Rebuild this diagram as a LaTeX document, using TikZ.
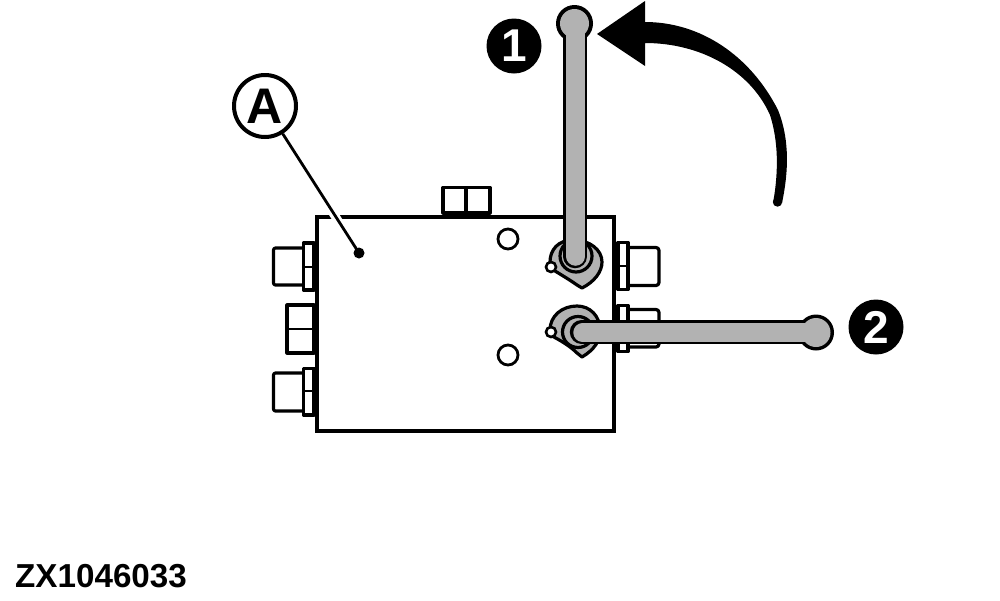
\documentclass[tikz,border=0pt]{standalone}
\usepackage{fontspec}
\setmainfont{Liberation Sans}
\definecolor{levergray}{RGB}{178,178,178}
\tikzset{
  part/.style={draw=black,line width=3.2pt,fill=white,line join=round},
  hairline/.style={draw=black,line width=2.6pt},
  grayp/.style={draw=black,line width=3.2pt,fill=levergray,line join=round},
  barout/.style={draw=black,line width=23.5pt,line cap=round},
  barin/.style={draw=levergray,line width=18.5pt,line cap=round},
  bullet/.style={circle,fill=black,minimum size=55pt,inner sep=0pt,text=white,font=\bfseries\fontsize{46}{46}\selectfont},
  letter/.style={circle,draw=black,line width=4pt,fill=white,minimum size=62pt,inner sep=0pt,font=\bfseries\fontsize{50}{50}\selectfont},
  hole/.style={circle,draw=black,line width=2.8pt,fill=white,minimum size=20pt,inner sep=0pt},
  pin/.style={circle,draw=black,line width=2.6pt,fill=white,minimum size=10pt,inner sep=0pt}
}
\begin{document}
\begin{tikzpicture}[x=1pt,y=-1pt]
\useasboundingbox (0,0) rectangle (1000,600);
% top plug
\draw[part] (443,213) rectangle (466,187.5);
\draw[part] (466,213) rectangle (490,187.5);
% left fittings
\draw[part,rounded corners=2pt] (303,248) -- (273.5,248) -- (273.5,285) -- (303,285);
\draw[part] (303.5,243) rectangle (314,290);
\draw[hairline] (302,267) -- (314,267);
\draw[part] (287,305) rectangle (314,353);
\draw[hairline] (286,329) -- (314,329);
\draw[part,rounded corners=2pt] (303,373) -- (273.5,373) -- (273.5,411) -- (303,411);
\draw[part] (303.5,368.5) rectangle (314,415);
\draw[hairline] (302,391) -- (314,391);
% right fittings
\draw[part,rounded corners=3pt] (628,247.5) -- (659,247.5) -- (659,285.5) -- (628,285.5);
\draw[part] (618,242.5) rectangle (628,289.5);
\draw[hairline] (616,266) -- (628,266);
\draw[part,rounded corners=3pt] (628,309.5) -- (659,309.5) -- (659,347) -- (628,347);
\draw[part] (618,305.5) rectangle (628,351.5);
% block
\draw[draw=black,line width=4.4pt,fill=white] (317,217) rectangle (614,431);
\node[hole] (h1) at (508,239) {};
\node[hole] (h2) at (508,355) {};
% leader
\node[letter] (A) at (265,106) {A};
\coordinate (dot) at (359,253);
\draw[white,line width=9pt] (330,208) -- (345,232);
\draw[black,line width=2.8pt] (A) -- (dot);
\fill[black] (dot) circle (5.5pt);
% upper valve
\draw[grayp] (550,262) .. controls (550,250) and (558,240) .. (573,240)
  .. controls (590,240) and (602,250) .. (602,262)
  .. controls (602,272) and (594,282) .. (582,288)
  -- (577,285) .. controls (570,280) and (560,274) .. (550,268) -- cycle;
\draw[grayp] (576,256) circle (16pt);
\node[pin] (p1) at (551,267) {};
% lower valve
\draw[grayp] (550,330) .. controls (550,316) and (562,306) .. (577,306)
  .. controls (590,306) and (600,316) .. (600,330)
  .. controls (601,340) and (594,350) .. (582,357)
  -- (577,353) .. controls (570,346) and (560,340) .. (550,335) -- cycle;
\draw[grayp] (578,332) circle (15.5pt);
\node[pin] (p2) at (551,332) {};
% levers
\coordinate (b1) at (574.5,23.5);
\coordinate (b2) at (816,332.5);
\draw[barout] (575.2,256.5) -- (575.2,30);
\fill[black] (b1) circle (18.5pt);
\draw[barin] (575.6,256.5) -- (575.6,30);
\fill[levergray] (b1) circle (14.5pt);
\draw[barout] (581.5,332) -- (805,332);
\fill[black] (b2) circle (18pt);
\draw[barin] (582.5,332.6) -- (805,332.6);
\fill[levergray] (b2) circle (14.5pt);
% arrow
\fill[black] (597,34) -- (645,1) -- (645,22) .. controls (700,22) and (750,55) .. (778,110) .. controls (788,135) and (790,165) .. (782,203) -- (773,203) .. controls (779,170) and (778,140) .. (770,115) .. controls (750,70) and (700,43) .. (645,43) -- (645,66) -- cycle;
\fill[black] (777.5,202) circle (4.7pt);
% bullets
\node[bullet] (n1) at (514,46) {1};
\node[bullet] (n2) at (876,327) {2};
\node[anchor=base west,inner sep=0pt,font=\bfseries\fontsize{33.2}{33.2}\selectfont] (code) at (15,587) {ZX1046033};
\end{tikzpicture}
\end{document}
